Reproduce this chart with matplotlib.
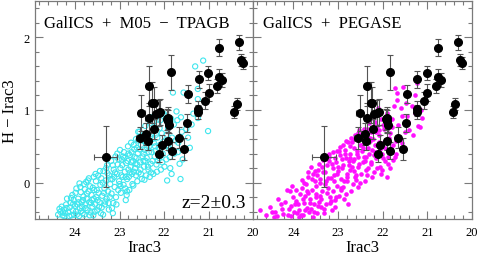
import matplotlib.pyplot as plt
from matplotlib.ticker import MultipleLocator

# ---------- data ----------

# observed galaxies: Irac3 magnitude, H-Irac3 colour, errors
obs_mag = [23.31, 22.55, 22.40, 22.37, 22.22, 22.05, 22.11, 21.83, 21.66, 21.55,
           22.51, 22.34, 22.26, 22.23, 22.34, 22.19, 22.08, 21.91, 21.91, 21.89,
           21.84, 21.48, 21.45, 21.24, 21.24, 21.22, 21.08, 21.01, 21.00, 20.81,
           20.76, 20.70, 20.76, 20.42, 20.37, 20.32, 20.27, 20.23, 21.93, 21.91,
           22.12]
obs_col = [0.36, 0.62, 0.67, 0.57, 0.74, 0.52, 0.40, 0.44, 0.62, 0.46,
           0.96, 0.89, 1.10, 1.10, 1.33, 0.94, 0.97, 0.89, 0.85, 0.80,
           1.52, 0.82, 1.22, 1.02, 0.97, 1.42, 1.13, 1.51, 1.24, 1.33,
           1.45, 1.41, 1.86, 0.97, 1.08, 1.93, 1.69, 1.65, 0.87, 0.57,
           0.96]
obs_cerr = [0.42, 0.15, 0.15, 0.12, 0.14, 0.14, 0.12, 0.12, 0.14, 0.15,
            0.25, 0.20, 0.28, 0.22, 0.27, 0.20, 0.18, 0.15, 0.15, 0.12,
            0.24, 0.12, 0.12, 0.10, 0.10, 0.12, 0.12, 0.10, 0.12, 0.10,
            0.12, 0.10, 0.12, 0.08, 0.08, 0.10, 0.08, 0.08, 0.14, 0.12,
            0.18]
obs_merr = [0.26, 0.08, 0.08, 0.08, 0.07, 0.06, 0.06, 0.06, 0.05, 0.05,
            0.08, 0.08, 0.07, 0.07, 0.07, 0.07, 0.06, 0.06, 0.06, 0.06,
            0.05, 0.05, 0.05, 0.04, 0.04, 0.04, 0.04, 0.04, 0.04, 0.04,
            0.04, 0.04, 0.04, 0.03, 0.03, 0.03, 0.03, 0.03, 0.06, 0.06,
            0.07]

# GalICS + M05-TPAGB model galaxies (cyan open circles)
m05_mag = [24.38, 24.33, 24.28, 24.25, 24.22, 24.30, 24.20, 24.24,
           24.15, 24.12, 24.10, 24.08, 24.05, 24.03, 24.00, 24.18, 24.02, 24.06,
           23.98, 23.95, 23.93, 23.91, 23.89, 23.87, 23.85, 23.83, 23.81, 23.97, 23.90, 23.84,
           23.79, 23.77, 23.75, 23.74, 23.72, 23.70, 23.68, 23.66, 23.65, 23.63, 23.61, 23.78, 23.69, 23.62,
           23.59, 23.57, 23.55, 23.53, 23.52, 23.50, 23.48, 23.47, 23.45, 23.43, 23.42, 23.58, 23.54, 23.46, 23.41,
           23.39, 23.37, 23.36, 23.34, 23.33, 23.31, 23.29, 23.28, 23.26, 23.24, 23.23, 23.21, 23.38, 23.32, 23.27, 23.22,
           23.19, 23.18, 23.16, 23.14, 23.13, 23.11, 23.09, 23.08, 23.06, 23.04, 23.03, 23.01, 23.17, 23.12, 23.05, 23.00,
           22.98, 22.97, 22.95, 22.93, 22.91, 22.90, 22.88, 22.86, 22.85, 22.83, 22.81, 22.80, 22.96, 22.92, 22.87, 22.82, 22.99, 22.84,
           22.79, 22.77, 22.75, 22.74, 22.72, 22.70, 22.69, 22.67, 22.65, 22.63, 22.62, 22.60, 22.78, 22.73, 22.68, 22.64, 22.61,
           22.59, 22.57, 22.55, 22.54, 22.52, 22.50, 22.48, 22.47, 22.45, 22.43, 22.42, 22.40, 22.58, 22.53, 22.46, 22.41,
           22.39, 22.37, 22.35, 22.33, 22.31, 22.30, 22.28, 22.26, 22.24, 22.22, 22.21, 22.38, 22.32, 22.27, 22.23,
           22.19, 22.17, 22.15, 22.13, 22.11, 22.09, 22.07, 22.05, 22.03, 22.01, 22.16, 22.10, 22.04,
           21.98, 21.95, 21.93, 21.91, 21.88, 21.86, 21.84, 21.82, 21.80, 21.96,
           21.77, 21.72, 21.70, 21.68, 21.65, 21.63, 21.60, 21.56, 21.52,
           21.46, 21.38, 21.30, 21.24, 21.24, 21.24, 21.12, 21.01,
           24.35, 24.27, 24.19, 24.13, 24.09, 24.04, 23.99, 23.96, 23.92, 23.88,
           23.86, 23.82, 23.80, 23.76, 23.73, 23.71, 23.67, 23.64, 23.60, 23.58,
           23.56, 23.51, 23.49, 23.44, 23.40, 23.35, 23.30, 23.25, 23.20, 23.15,
           23.15, 23.10, 23.07, 23.02, 22.98, 22.94, 22.89, 22.86, 22.83, 22.80,
           22.76, 22.73, 22.71, 22.68, 22.66, 22.63, 22.60, 22.58, 22.55, 22.52,
           22.49, 22.46, 22.44, 22.42, 22.39, 22.36, 22.34, 22.31, 22.29, 22.26,
           22.24, 22.20, 22.18, 22.14, 22.12, 22.08, 22.06, 22.02, 21.99, 21.94,
           21.90, 21.87, 21.83, 21.78, 21.74, 21.69, 21.62, 21.58, 21.50, 21.42,
           21.34]
m05_col = [-0.44, -0.40, -0.45, -0.37, -0.42, -0.33, -0.30, -0.46,
           -0.41, -0.34, -0.28, -0.45, -0.38, -0.24, -0.32, -0.22, -0.44, -0.17,
           -0.40, -0.30, -0.22, -0.46, -0.35, -0.13, -0.27, -0.42, -0.19, -0.08, -0.01, -0.33,
           -0.44, -0.30, 0.01, -0.22, -0.38, -0.12, -0.27, -0.05, -0.41, -0.17, -0.33, -0.09, 0.06, -0.24,
           -0.45, -0.10, -0.30, 0.02, -0.20, -0.38, 0.10, -0.14, -0.27, -0.03, -0.42, -0.22, 0.12, -0.33, 0.06,
           -0.18, -0.44, 0.16, -0.08, -0.30, 0.03, -0.22, 0.24, -0.12, -0.37, 0.10, -0.02, 0.00, -0.26, 0.13, -0.20,
           0.30, -0.15, 0.05, -0.28, 0.18, -0.06, 0.36, -0.20, 0.12, 0.25, -0.10, 0.02, -0.35, 0.08, 0.40, -0.02,
           0.20, -0.14, 0.32, 0.08, -0.03, 0.42, 0.15, -0.24, 0.27, 0.05, 0.50, 0.18, 0.10, 0.36, -0.08, 0.30, 0.45, -0.17,
           0.08, 0.38, 0.22, 0.55, 0.12, 0.30, -0.04, 0.46, 0.20, 0.60, 0.34, 0.02, -0.10, 0.42, 0.15, 0.26, 0.48,
           0.40, 0.14, 0.70, 0.28, 0.52, 0.05, 0.36, 0.62, 0.22, 0.45, 0.78, 0.10, 0.58, 0.18, 0.30, 0.55,
           0.34, 0.66, 0.18, 0.50, 0.82, 0.26, 0.42, 0.60, 0.12, 0.72, 0.36, 0.48, 0.08, 0.90, 0.55,
           0.44, 0.25, 0.62, 0.80, 0.34, 0.52, 0.18, 0.68, 0.40, 0.95, 0.15, 0.75, 0.28,
           0.58, 0.32, 0.03, 0.75, 0.46, 0.20, 0.88, 0.62, 1.24, 0.92,
           0.40, 0.98, 0.86, 0.55, 0.26, 0.05, 0.70, 1.24, 0.45,
           0.62, 0.80, 1.60, 1.29, 1.15, 0.89, 1.68, 0.71,
           -0.36, -0.41, -0.35, -0.46, -0.21, -0.29, -0.14, -0.44, -0.27, -0.06,
           -0.39, -0.24, -0.02, -0.35, -0.15, 0.03, -0.45, -0.28, -0.07, 0.08,
           -0.40, -0.10, -0.24, 0.16, -0.34, -0.14, 0.20, -0.28, 0.05, -0.42,
           0.24, 0.14, -0.30, 0.32, -0.05, 0.24, 0.34, 0.08, -0.12, 0.40,
           0.14, 0.28, -0.02, 0.52, 0.35, 0.10, 0.25, 0.70, 0.46, 0.12,
           0.58, 0.40, 0.04, 0.30, 0.56, 0.22, 0.42, 0.63, 0.14, 0.30,
           0.84, 0.50, 0.66, 0.30, 0.48, 0.86, 0.38, 0.56, 0.22, 0.66,
           0.50, 0.35, 0.12, 0.80, 0.58, 0.42, 0.90, 0.32, 0.74, 0.48,
           0.95]

# GalICS + PEGASE model galaxies (magenta dots)
peg_mag = [24.74, 24.52, 24.44, 24.33, 24.22, 24.15, 24.40, 24.28,
           24.10, 24.05, 24.00, 23.96, 23.92, 24.08, 24.02, 23.94,
           23.88, 23.85, 23.81, 23.78, 23.75, 23.72, 23.70, 23.86, 23.80, 23.74,
           23.66, 23.64, 23.62, 23.60, 23.58, 23.56, 23.54, 23.52, 23.68, 23.61, 23.55, 23.50,
           23.48, 23.46, 23.44, 23.42, 23.40, 23.38, 23.36, 23.33, 23.31, 23.47, 23.41, 23.35, 23.30,
           23.28, 23.26, 23.24, 23.22, 23.20, 23.18, 23.16, 23.14, 23.12, 23.10, 23.27, 23.21, 23.15, 23.11,
           23.08, 23.07, 23.05, 23.03, 23.01, 22.99, 22.97, 22.95, 22.93, 22.91, 23.06, 23.00, 22.96, 22.92,
           22.89, 22.87, 22.85, 22.83, 22.81, 22.80, 22.78, 22.76, 22.74, 22.72, 22.88, 22.84, 22.79, 22.73, 22.71,
           22.69, 22.67, 22.65, 22.63, 22.61, 22.59, 22.58, 22.56, 22.54, 22.52, 22.68, 22.64, 22.60, 22.55, 22.51,
           22.49, 22.47, 22.45, 22.43, 22.41, 22.39, 22.37, 22.36, 22.34, 22.32, 22.48, 22.44, 22.40, 22.35, 22.31,
           22.29, 22.27, 22.25, 22.23, 22.21, 22.19, 22.17, 22.15, 22.13, 22.11, 22.28, 22.24, 22.20, 22.16,
           22.10, 22.08, 22.06, 22.04, 22.02, 22.00, 21.98, 21.95, 21.93, 21.91, 22.09, 22.05, 22.01,
           21.89, 21.86, 21.84, 21.81, 21.79, 21.76, 21.73, 21.71, 21.69, 21.67, 21.67, 21.65,
           21.59, 21.54, 21.46, 21.43, 21.35, 21.32, 21.24, 21.20, 21.17, 21.11, 21.56, 21.50,
           24.60, 24.48, 24.36, 24.25, 24.18, 24.12, 24.06, 23.98, 23.93, 23.90,
           23.83, 23.79, 23.76, 23.73, 23.69, 23.67, 23.63, 23.57, 23.53, 23.51,
           23.49, 23.45, 23.43, 23.39, 23.37, 23.34, 23.32, 23.29, 23.25, 23.23,
           23.19, 23.17, 23.13, 23.09, 23.06, 23.04, 23.02, 22.98, 22.94, 22.90,
           22.88, 22.86, 22.82, 22.80, 22.77, 22.75, 22.72, 22.70, 22.66, 22.64,
           22.62, 22.57, 22.55, 22.53, 22.50, 22.46, 22.42, 22.40, 22.38, 22.33,
           22.30, 22.26, 22.22, 22.18, 22.14, 22.12, 22.07, 22.03, 22.00, 21.97,
           21.94, 21.90, 21.87, 21.83, 21.80, 21.77, 21.74, 21.72, 21.62, 21.57,
           21.52, 21.47, 21.40, 21.28, 21.27, 21.15]
peg_col = [-0.38, -0.33, -0.47, -0.22, -0.43, -0.10, -0.40, -0.30,
           -0.36, -0.46, -0.20, -0.30, -0.42, -0.12, -0.05, -0.25,
           -0.38, -0.15, -0.08, -0.44, -0.28, -0.02, -0.35, -0.47, 0.04, -0.18,
           0.08, -0.40, -0.22, 0.21, -0.10, -0.47, -0.30, 0.02, -0.14, -0.36, 0.12, -0.20,
           -0.05, -0.42, 0.18, -0.26, 0.05, -0.33, -0.12, 0.31, -0.42, 0.10, -0.18, 0.22, -0.02,
           0.14, -0.30, 0.25, -0.08, 0.36, -0.20, 0.06, -0.38, 0.20, -0.12, 0.02, 0.30, -0.25, 0.42,
           0.10, -0.34, 0.28, -0.05, 0.44, 0.16, -0.18, 0.49, 0.05, 0.32, -0.24, 0.22, 0.38, -0.10,
           0.24, 0.02, 0.40, -0.15, 0.58, 0.12, -0.29, 0.30, 0.50, 0.18, -0.06, 0.45, 0.08, 0.34, 0.62,
           0.22, -0.02, 0.48, 0.32, 0.66, 0.10, 0.40, 0.69, -0.06, 0.26, 0.56, 0.16, 0.04, 0.36, 0.52,
           0.12, 0.44, 0.62, 0.28, 0.74, 0.02, 0.36, 0.56, 0.74, 0.20, 0.66, 0.48, 0.30, 0.10, 0.40,
           0.58, 0.26, 0.70, 0.45, 0.89, 0.14, 0.52, 0.34, 0.78, 1.03, 0.62, 0.08, 0.38, 0.84,
           0.50, 0.66, 0.22, 0.12, 0.40, 0.80, 0.56, 0.30, 0.92, 0.08, 0.72, 0.46, 0.18,
           0.36, 0.62, 0.20, 0.48, 0.76, 0.31, 1.30, 0.58, 0.40, 1.23, 1.14, 0.80,
           1.03, 1.32, 0.92, 0.83, 1.05, 0.65, 1.37, 0.78, 0.76, 0.89, 0.54, 0.70,
           -0.45, -0.40, -0.46, -0.36, -0.26, -0.44, -0.32, -0.40, -0.10, -0.30,
           -0.45, -0.22, 0.00, -0.38, -0.12, 0.14, -0.28, 0.05, -0.40, 0.16,
           -0.16, -0.32, 0.26, 0.00, -0.22, 0.14, -0.36, 0.32, -0.14, 0.06,
           0.40, -0.28, 0.26, 0.02, 0.34, -0.20, 0.12, 0.44, -0.08, 0.20,
           0.52, -0.22, 0.34, 0.02, 0.56, 0.24, 0.40, -0.12, 0.30, 0.60,
           0.08, 0.44, 0.22, 0.72, 0.00, 0.52, 0.36, 0.64, 0.18, 0.48,
           0.82, 0.28, 0.60, 0.42, 0.70, 0.20, 0.56, 0.88, 0.34, 0.74,
           0.48, 0.96, 0.26, 0.68, 0.88, 0.52, 1.05, 0.36, 0.60, 0.92,
           0.48, 1.10, 0.72, 0.96, 1.20, 1.00]

# ---------- plotting ----------

SERIF = "Liberation Serif"
FRAME = "#7a7a7a"

fig = plt.figure(figsize=(4.8, 2.55), dpi=100)
ax1 = fig.add_axes([35 / 480, 35 / 255, 218 / 480, 218 / 255])
ax2 = fig.add_axes([253 / 480, 35 / 255, 219 / 480, 218 / 255])

for ax in (ax1, ax2):
    ax.set_xlim(24.9, 20.0)
    ax.set_ylim(-0.5, 2.5)
    ax.xaxis.set_major_locator(MultipleLocator(1))
    ax.xaxis.set_minor_locator(MultipleLocator(0.2))
    ax.yaxis.set_major_locator(MultipleLocator(1))
    ax.yaxis.set_minor_locator(MultipleLocator(0.2))
    ax.tick_params(which="both", direction="in", top=True, right=True,
                   color=FRAME, width=0.8, labelsize=9)
    ax.tick_params(which="major", length=6)
    ax.tick_params(which="minor", length=3)
    ax.tick_params(axis="x", pad=5)
    for sp in ax.spines.values():
        sp.set_color(FRAME)
        sp.set_linewidth(0.9)
    for lab in ax.get_xticklabels() + ax.get_yticklabels():
        lab.set_family(SERIF)
    ax.set_xlabel("Irac3", family=SERIF, fontsize=12, labelpad=1)

ax2.tick_params(axis="y", labelleft=False)
ax1.set_ylabel("H \u2212 Irac3", family=SERIF, fontsize=12, labelpad=4)

ax1.scatter(m05_mag, m05_col, s=14, facecolors="none", edgecolors="#3fe6ee",
            linewidths=0.8, zorder=2)
ax2.scatter(peg_mag, peg_col, s=11, color="#ff10ff", linewidths=0, zorder=2)

for ax in (ax1, ax2):
    ax.errorbar(obs_mag, obs_col, yerr=obs_cerr, xerr=obs_merr, fmt="o",
                color="black", ms=5.5, ecolor="#555555", elinewidth=0.8,
                capsize=2, capthick=0.8, zorder=3)

ax1.text(0.04, 0.9, "GalICS  +  M05  \u2212  TPAGB", transform=ax1.transAxes,
         family=SERIF, fontsize=12, va="center", ha="left")
ax2.text(0.045, 0.9, "GalICS  +  PEGASE", transform=ax2.transAxes,
         family=SERIF, fontsize=12, va="center", ha="left")
ax1.text(0.97, 0.075, "z=2\u00b10.3", transform=ax1.transAxes,
         family=SERIF, fontsize=14, va="center", ha="right")

fig.savefig("out.png", dpi=100)
